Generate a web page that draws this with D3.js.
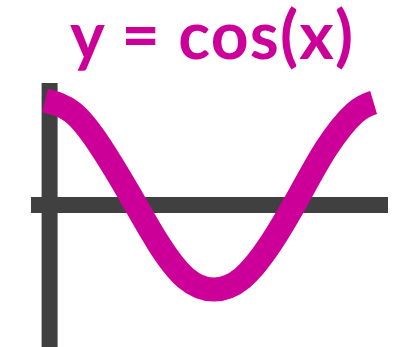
<!DOCTYPE html>
<html>
<head>
<meta charset="utf-8">
<script src="https://cdn.jsdelivr.net/npm/d3@7"></script>
<style>
  html, body { margin: 0; padding: 0; background: #fff; }
  svg { display: block; }
</style>
</head>
<body>
<svg id="chart" width="403" height="347"></svg>
<script>
// angle in degrees and the value of the curve
const angles = [0, 30, 60, 90, 120, 150, 180, 210, 240, 270, 300, 330, 350];
const values = [1, 0.87, 0.5, 0.01, -0.5, -0.88, -1, -0.88, -0.52, -0.02, 0.5, 0.87, 0.98];
const titleText = "y = cos(x)";

document.addEventListener('DOMContentLoaded', function () {
  const svg = d3.select("#chart");
  const magenta = "#cc0099";
  const axisColor = "#404040";

  const x = d3.scaleLinear().domain([0, 180]).range([45, 214]);
  const y = d3.scaleLinear().domain([-1, 1]).range([289.5, 100.5]);

  // axes (just thick bars, no ticks)
  svg.append("line")
    .attr("x1", 49.6).attr("x2", 49.6)
    .attr("y1", 83).attr("y2", 347)
    .attr("stroke", axisColor)
    .attr("stroke-width", 16);

  svg.append("line")
    .attr("x1", 31).attr("x2", 388)
    .attr("y1", 205).attr("y2", 205)
    .attr("stroke", axisColor)
    .attr("stroke-width", 16);

  const pts = angles.map((a, i) => [a, values[i]]);
  const line = d3.line()
    .x(d => x(d[0]))
    .y(d => y(d[1]))
    .curve(d3.curveNatural);

  svg.append("path")
    .datum(pts)
    .attr("d", line)
    .attr("fill", "none")
    .attr("stroke", magenta)
    .attr("stroke-width", 24)
    .attr("stroke-linecap", "butt");

  svg.append("text")
    .attr("x", 70)
    .attr("y", 59)
    .attr("font-family", "Lato, 'Open Sans', sans-serif")
    .attr("font-weight", "bold")
    .attr("font-size", 66)
    .attr("textLength", 283)
    .attr("lengthAdjust", "spacing")
    .attr("fill", magenta)
    .text(titleText);
});
</script>
</body>
</html>
